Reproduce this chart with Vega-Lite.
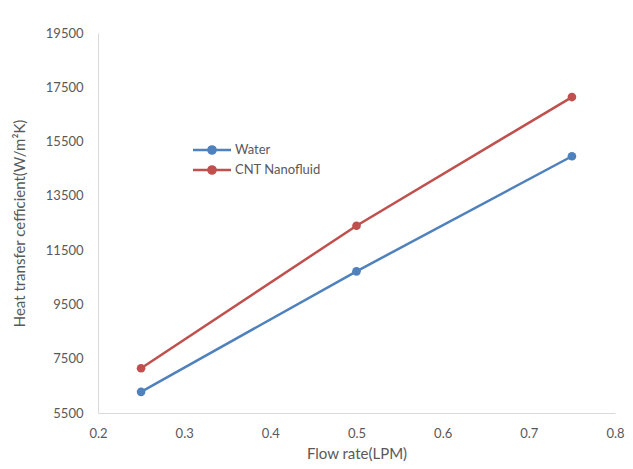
{
  "$schema": "https://vega.github.io/schema/vega-lite/v6.json",
  "autosize": "none",
  "width": 517,
  "height": 380,
  "padding": {"left": 98, "top": 33, "right": 18, "bottom": 56},
  "background": "white",
  "config": {
    "view": {"stroke": null},
    "font": "Lato"
  },
  "data": {
    "values": [
      {"flow": 0.25, "h": 6280, "series": "Water"},
      {"flow": 0.5, "h": 10720, "series": "Water"},
      {"flow": 0.75, "h": 14960, "series": "Water"},
      {"flow": 0.25, "h": 7150, "series": "CNT Nanofluid"},
      {"flow": 0.5, "h": 12400, "series": "CNT Nanofluid"},
      {"flow": 0.75, "h": 17140, "series": "CNT Nanofluid"}
    ]
  },
  "encoding": {
    "x": {
      "field": "flow", "type": "quantitative",
      "scale": {"domain": [0.2, 0.8], "nice": false, "zero": false},
      "axis": {
        "title": "Flow rate(LPM)", "values": [0.2, 0.3, 0.4, 0.5, 0.6, 0.7, 0.8],
        "format": ".1f", "grid": false, "ticks": false, "domainColor": "#d9d9d9",
        "labelColor": "#595959", "labelFontSize": 13, "labelPadding": 14,
        "titleColor": "#595959", "titleFontSize": 15, "titleFontWeight": "normal", "titlePadding": 6,
        "labelFlush": false
      }
    },
    "y": {
      "field": "h", "type": "quantitative",
      "scale": {"domain": [5500, 19500], "nice": false, "zero": false},
      "axis": {
        "title": "Heat transfer cefficient(W/m²K)",
        "values": [5500, 7500, 9500, 11500, 13500, 15500, 17500, 19500],
        "format": "d", "grid": false, "ticks": false, "domainColor": "#d9d9d9",
        "labelColor": "#595959", "labelFontSize": 13, "labelPadding": 15,
        "titleColor": "#595959", "titleFontSize": 15, "titleFontWeight": "normal", "titlePadding": 18
      }
    },
    "color": {
      "field": "series", "type": "nominal",
      "scale": {"domain": ["Water", "CNT Nanofluid"], "range": ["#4f81bd", "#c0504d"]},
      "legend": {
        "title": null, "orient": "none", "legendX": 103, "legendY": 106, "padding": 0,
        "symbolType": "M-2,0L2,0M-0.38,0A0.38,0.38 0 1,1 0.38,0A0.38,0.38 0 1,1 -0.38,0",
        "symbolSize": 361, "symbolStrokeWidth": 2.5,
        "labelColor": "#595959", "labelFontSize": 13, "labelOffset": 12, "rowPadding": -2
      }
    }
  },
  "layer": [
    {"mark": {"type": "line", "strokeWidth": 2.5}},
    {"mark": {"type": "circle", "size": 75, "opacity": 1}}
  ]
}
